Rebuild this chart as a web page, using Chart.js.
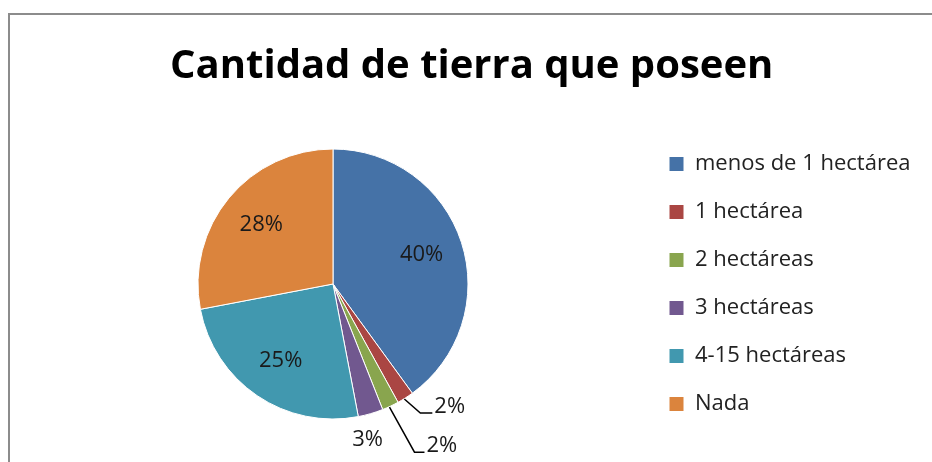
<!DOCTYPE html>
<html>
<head>
<meta charset="utf-8">
<script src="https://cdn.jsdelivr.net/npm/chart.js@4.4.1/dist/chart.umd.min.js"></script>
<style>
  body { margin: 0; background: #fff; }
  #marco { position: absolute; left: 8px; top: 13px; width: 924px; height: 449px;
           border-left: 2px solid #8c8c8c; border-top: 2px solid #8c8c8c; }
  #tierraChart { position: absolute; left: 0; top: 0; }
</style>
</head>
<body>
<div id="marco"></div>
<canvas id="tierraChart" width="932" height="462"></canvas>
<script>
// datos
const titulo = 'Cantidad de tierra que poseen';
const categorias = ['menos de 1 hectárea', '1 hectárea', '2 hectáreas', '3 hectáreas', '4-15 hectáreas', 'Nada'];
const porcentajes = [40, 2, 2, 3, 25, 28];
const etiquetas = ['40%', '2%', '2%', '3%', '25%', '28%'];
const colores = ['#4572A7', '#AA4643', '#89A54E', '#71588F', '#4198AF', '#DB843D'];

const fuente = "'Open Sans', 'Noto Sans', sans-serif";
const tamLeyenda = 22;

// etiquetas de las porciones pequeñas: desplazamientos desde el borde del arco
const llamadas = {
    1: { codo: [15, 15], largo: 12 },
    2: { codo: [24, 46], largo: 10 },
    3: { texto: [-3, 26] }
};

// ancho del texto más largo de la leyenda, para dejar la tarta en su sitio
const medida = document.createElement('canvas').getContext('2d');
medida.font = tamLeyenda + 'px ' + fuente;
const anchoTexto = Math.max(...categorias.map(c => medida.measureText(c).width));
const padDerecha = Math.max(0, 932 - (643 + 26 + 15 + tamLeyenda / 2 + anchoTexto + 10));

const etiquetasPlugin = {
    id: 'etiquetas',
    afterDatasetsDraw(chart) {
        const ctx = chart.ctx;
        const meta = chart.getDatasetMeta(0);
        ctx.save();
        ctx.font = '22px ' + fuente;
        ctx.fillStyle = '#1a1a1a';
        ctx.strokeStyle = '#000';
        ctx.lineWidth = 1.5;
        meta.data.forEach((arc, i) => {
            const p = arc.getProps(['x', 'y', 'startAngle', 'endAngle', 'outerRadius'], true);
            const medio = (p.startAngle + p.endAngle) / 2;
            const c = Math.cos(medio), s = Math.sin(medio);
            const borde = [p.x + p.outerRadius * c, p.y + p.outerRadius * s];
            const ll = llamadas[i];
            if (!ll) {
                const r = p.outerRadius * 0.69;
                ctx.textAlign = 'center';
                ctx.textBaseline = 'middle';
                ctx.fillText(etiquetas[i], p.x + r * c, p.y + r * s);
            } else if (ll.codo) {
                const codo = [borde[0] + ll.codo[0], borde[1] + ll.codo[1]];
                const fin = [codo[0] + ll.largo, codo[1]];
                ctx.beginPath();
                ctx.moveTo(borde[0] - 1, borde[1] + 1);
                ctx.lineTo(codo[0], codo[1]);
                ctx.lineTo(fin[0], fin[1]);
                ctx.stroke();
                ctx.textAlign = 'left';
                ctx.textBaseline = 'alphabetic';
                ctx.fillText(etiquetas[i], fin[0] + 2, fin[1]);
            } else {
                ctx.textAlign = 'center';
                ctx.textBaseline = 'middle';
                ctx.fillText(etiquetas[i], borde[0] + ll.texto[0], borde[1] + ll.texto[1]);
            }
        });
        ctx.restore();
    }
};

new Chart(document.getElementById('tierraChart'), {
    type: 'pie',
    data: {
        labels: categorias,
        datasets: [{
            data: porcentajes,
            backgroundColor: colores,
            borderColor: '#ffffff',
            borderWidth: 1,
            radius: 135
        }]
    },
    options: {
        responsive: false,
        animation: false,
        devicePixelRatio: 1,
        layout: { padding: { left: 23, right: padDerecha, top: 0, bottom: 0 } },
        plugins: {
            title: {
                display: true,
                text: titulo,
                color: '#000',
                font: { family: fuente, size: 40, weight: 'bold' },
                padding: { top: 43, bottom: 15 }
            },
            legend: {
                position: 'right',
                fullSize: false,
                labels: {
                    boxWidth: 15,
                    boxHeight: 15,
                    padding: 26,
                    color: '#222',
                    font: { family: fuente, size: tamLeyenda }
                }
            },
            tooltip: { enabled: false }
        }
    },
    plugins: [etiquetasPlugin]
});
</script>
</body>
</html>
